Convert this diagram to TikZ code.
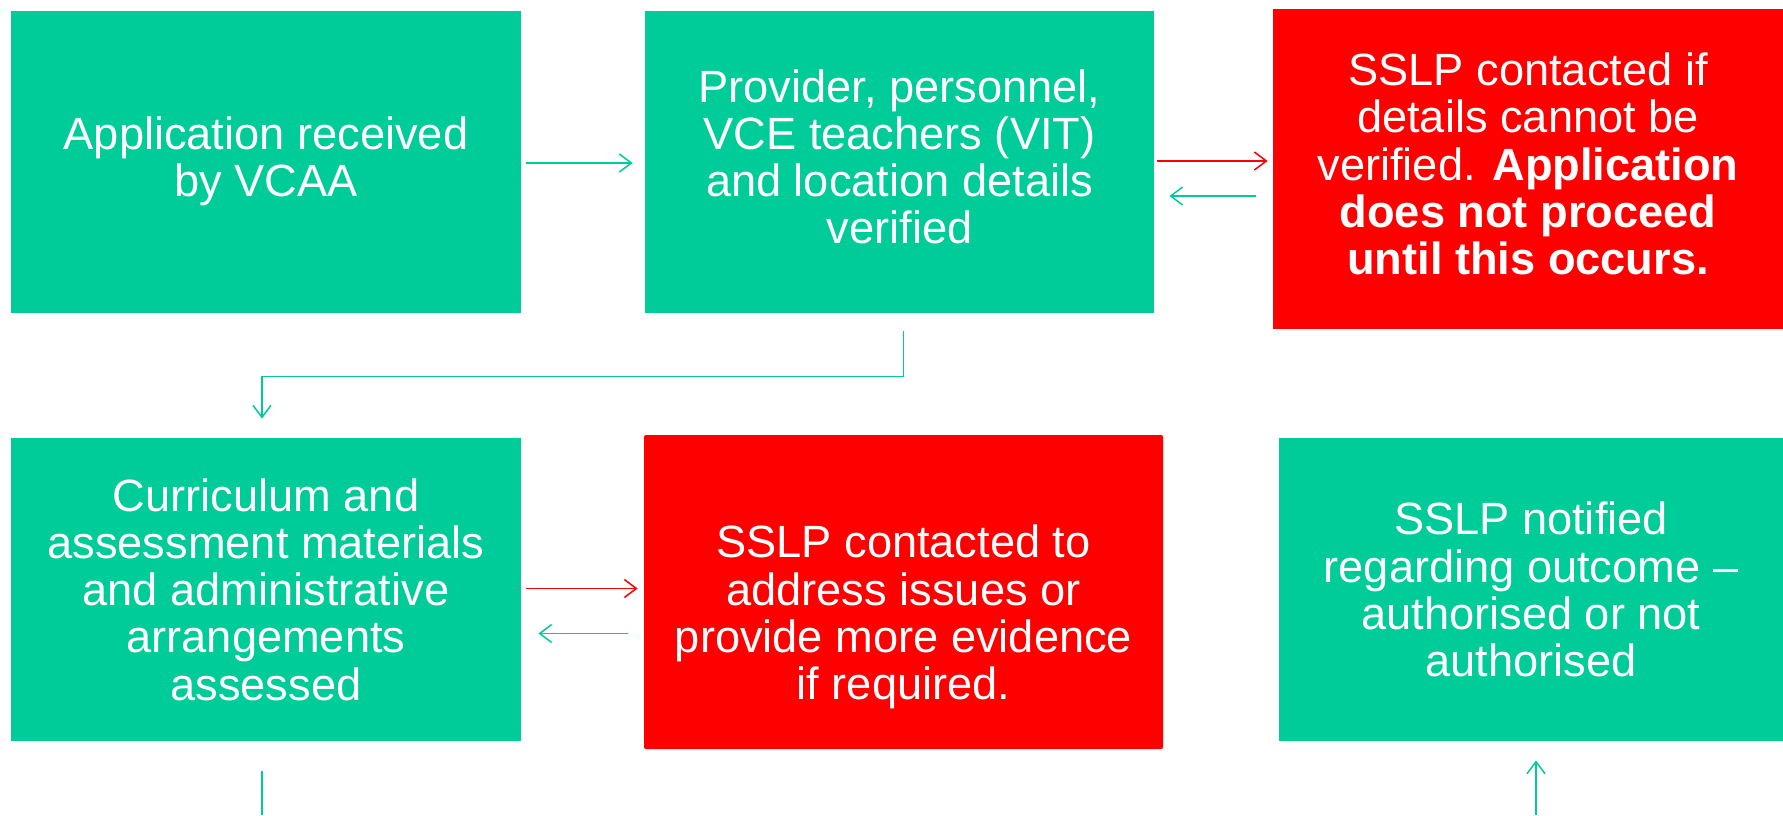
\documentclass[tikz,border=0pt]{standalone}
\usepackage{fontspec}
\setmainfont{Liberation Sans}
\usetikzlibrary{arrows.meta,calc}
\definecolor{boxgreen}{RGB}{0,204,153}
\definecolor{boxred}{RGB}{255,0,0}
\tikzset{
  box/.style={fill=boxgreen, draw=none, text=white, inner sep=0pt, align=center,
    font=\fontsize{22.6}{23.6}\selectfont},
  redbox/.style={box, fill=boxred},
  txt/.style={text=white, inner sep=0pt, align=center, font=\fontsize{22.6}{23.6}\selectfont},
  garrow/.style={draw=boxgreen, line width=0.75pt, -{Straight Barb[length=6pt,width=9pt,line width=0.75pt]}},
  rarrow/.style={draw=boxred, line width=0.75pt, -{Straight Barb[length=6pt,width=9pt,line width=0.75pt]}},
  gline/.style={draw=boxgreen, line width=0.75pt}
}
\begin{document}
\begin{tikzpicture}[x=0.5pt,y=-0.5pt]
\useasboundingbox (0,0) rectangle (1783,815);
\node[box, minimum width=255pt, minimum height=151pt] (A) at (266,162) {};
\node[txt] (At) at ($(A.center)+(0,-1)$) {Application received\\by VCAA};
\node[box, minimum width=254.5pt, minimum height=151pt] (B) at (899.5,162) {};
\node[txt] (Bt) at ($(B.center)+(0,-5)$)
  {Provider, personnel,\\VCE teachers (VIT)\\and location details\\verified};
\node[redbox, minimum width=255pt, minimum height=160pt] (C) at (1528,169) {};
\node[txt] (Ct) at ($(C.center)+(0,-5)$)
  {SSLP contacted if\\details cannot be\\verified. \textbf{Application}\\\textbf{does not proceed}\\\textbf{until this occurs.}};
\node[box, minimum width=255pt, minimum height=151.5pt] (D) at (266,589.5)
  {Curriculum and\\assessment materials\\and administrative\\arrangements\\assessed};
\node[redbox, rounded corners=1pt, minimum width=259.5pt, minimum height=157pt] (E) at (903.5,592) {};
\node[txt] (Et) at ($(E.center)+(0,25)$)
  {SSLP contacted to\\address issues or\\provide more evidence\\if required.};
\node[box, minimum width=252pt, minimum height=151.5pt] (F) at (1531,589.5)
  {SSLP notified\\regarding outcome --\\authorised or not\\authorised};
% connectors
\draw[garrow] ($(A.east)+(5,1)$) -- ($(B.west)+(-12,1)$);
\draw[rarrow] ($(B.east)+(3,-1)$) -- ($(C.west |- B.east)+(-5,-1)$);
\draw[garrow] ($(C.west |- B.east)+(-17,34)$) -- ($(B.east)+(15,34)$);
\draw[garrow] ($(B.south)+(4,18)$) -- ++(0,45) -| ($(D.north)+(-4,-19)$);
\draw[rarrow] ($(D.east)+(5,-1)$) -- ($(E.west |- D.east)+(-6,-1)$);
\draw[garrow] ($(E.west |- D.east)+(-16,44)$) -- ($(D.east)+(17,44)$);
\coordinate (dn) at (262,815);
\draw[gline] ($(D.south)+(-4,30)$) -- (dn);
\coordinate (up) at (1536,815);
\draw[garrow] (up) -- ($(F.south)+(5,19)$);
\end{tikzpicture}
\end{document}
